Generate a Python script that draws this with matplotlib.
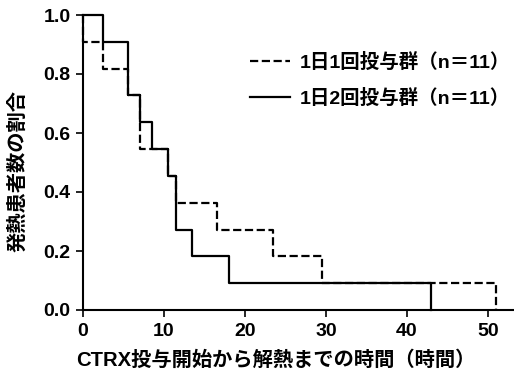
import matplotlib
matplotlib.use("Agg")
import matplotlib.pyplot as plt

plt.rcParams['font.family'] = ['Liberation Sans', 'Noto Sans CJK JP', 'DejaVu Sans']

# Data (hours, number of febrile patients remaining out of 11)
n_total = 11
once_times = [0, 0, 2.5, 5.5, 7, 10.5, 11.5, 16.5, 23.5, 29.5, 51]
once_counts = [11, 10, 9, 8, 6, 5, 4, 3, 2, 1, 0]
twice_times = [0, 2.5, 5.5, 7, 8.5, 10.5, 11.5, 13.5, 18, 43]
twice_counts = [11, 10, 8, 7, 6, 5, 3, 2, 1, 0]
labels = ['1日1回投与群（n＝11）', '1日2回投与群（n＝11）']
xticks = [0, 10, 20, 30, 40, 50]
yticks = [0.0, 0.2, 0.4, 0.6, 0.8, 1.0]

fig = plt.figure(figsize=(5.14, 3.78), dpi=100)
ax = fig.add_axes([83/514, 1-310/378, 1-83/514, (310-15)/378])

once_y = [c / n_total for c in once_counts]
twice_y = [c / n_total for c in twice_counts]
ax.step(once_times, once_y, where='post', color='black', lw=1.6, ls='--',
        label=labels[0], clip_on=False)
ax.step(twice_times, twice_y, where='post', color='black', lw=1.6, ls='-',
        label=labels[1], clip_on=False)

ax.set_xlim(0, 53.2)
ax.set_ylim(0, 1.0)
ax.set_xticks(xticks)
ax.set_xticklabels([str(t) for t in xticks])
ax.set_yticks(yticks)
ax.set_yticklabels([f'{t:.1f}' for t in yticks])
for s in ['top', 'right']:
    ax.spines[s].set_visible(False)
for s in ['left', 'bottom']:
    ax.spines[s].set_linewidth(1.5)
ax.tick_params(axis='both', direction='out', length=5, width=1.2, pad=4,
               labelsize=14)
for lab in ax.get_xticklabels() + ax.get_yticklabels():
    lab.set_fontweight('bold')

ax.set_xlabel('CTRX投与開始から解熱までの時間（時間）', fontsize=14.6,
              fontweight='bold', va='center')
ax.xaxis.set_label_coords(0.448, -0.17)
ax.set_ylabel('発熱患者数の割合', fontsize=14.6, fontweight='bold', va='center')
ax.yaxis.set_label_coords(-0.151, 0.471)

leg = ax.legend(loc='upper left', bbox_to_anchor=(0.365, 0.905), frameon=False,
                prop={'size': 14, 'weight': 'bold'}, handlelength=2.05,
                handletextpad=0.5, labelspacing=0.85, borderpad=0)

fig.savefig('out.png', dpi=100)
